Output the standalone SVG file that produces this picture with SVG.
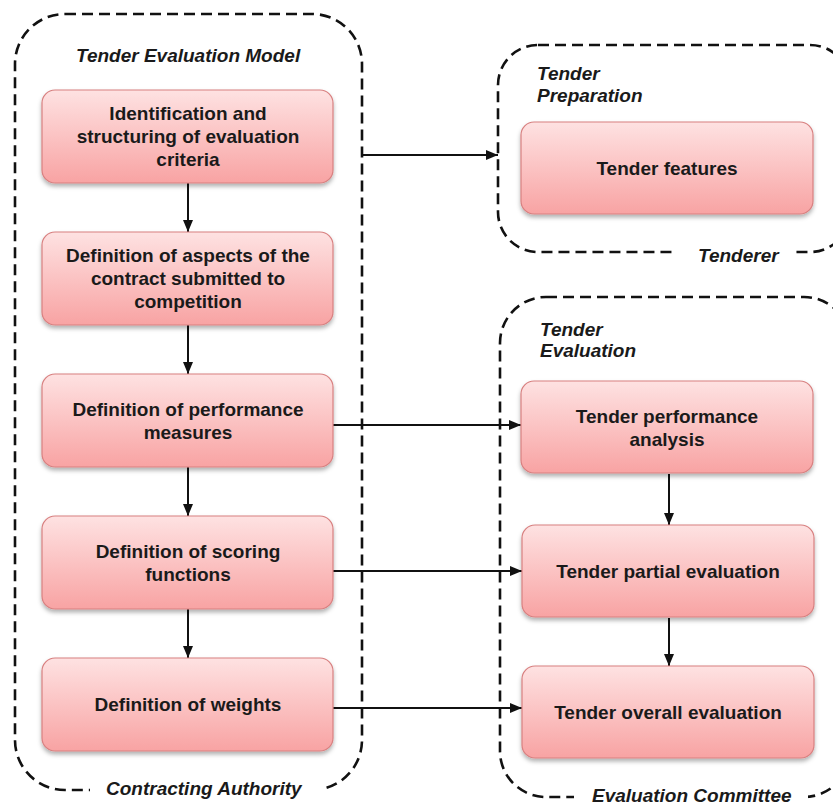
<svg xmlns="http://www.w3.org/2000/svg" width="833" height="808" viewBox="0 0 833 808">
<style>
.cont{fill:none;stroke:#111;stroke-width:2.6;stroke-dasharray:11 6}
.node{fill:url(#g);stroke:#d88080;stroke-width:1.2;filter:url(#sh)}
.nt{font-family:"Liberation Sans",Arial,sans-serif;font-weight:bold;font-size:19px;fill:#1a1a1a;text-anchor:middle}
.lb{font-family:"Liberation Sans",Arial,sans-serif;font-weight:bold;font-style:italic;font-size:19px;fill:#1a1a1a}
.ln{stroke:#111;stroke-width:2;fill:none;marker-end:url(#ah)}
.bg{fill:#fff}
</style>
<defs>
<linearGradient id="g" x1="0" y1="0" x2="0" y2="1">
<stop offset="0" stop-color="#fee2e2"/>
<stop offset="1" stop-color="#f8a3a3"/>
</linearGradient>
<filter id="sh" x="-10%" y="-10%" width="120%" height="130%">
<feDropShadow dx="0" dy="3" stdDeviation="2" flood-color="#000" flood-opacity="0.3"/>
</filter>
<marker id="ah" markerWidth="12" markerHeight="10" refX="12" refY="5" orient="auto" markerUnits="userSpaceOnUse">
<path d="M0,0 L12,5 L0,10 Z" fill="#111"/>
</marker>
</defs>
<rect width="833" height="808" fill="#fff"/>
<g id="containers">
<g id="c-authority">
<rect class="cont" x="15" y="14" width="347" height="776" rx="50"/>
<rect class="bg" x="90" y="778" width="232" height="24"/>
<text class="lb" x="106" y="795">Contracting Authority</text>
<text class="lb" x="76" y="62">Tender Evaluation Model</text>
</g>
<g id="c-tenderer">
<rect class="cont" x="498" y="45" width="352" height="207" rx="40"/>
<rect class="bg" x="672" y="242" width="120" height="24"/>
<text class="lb" x="698" y="262">Tenderer</text>
<text class="lb" x="537" y="80">Tender</text>
<text class="lb" x="537" y="102">Preparation</text>
</g>
<g id="c-committee">
<rect class="cont" x="500" y="297" width="350" height="500" rx="46"/>
<rect class="bg" x="574" y="785" width="234" height="23"/>
<text class="lb" x="592" y="802">Evaluation Committee</text>
<text class="lb" x="540" y="336">Tender</text>
<text class="lb" x="540" y="357">Evaluation</text>
</g>
</g>
<g id="connectors">
<line class="ln" x1="188" y1="183" x2="188" y2="232"/>
<line class="ln" x1="188" y1="325" x2="188" y2="374"/>
<line class="ln" x1="188" y1="467" x2="188" y2="516"/>
<line class="ln" x1="188" y1="609" x2="188" y2="658"/>
<line class="ln" x1="362" y1="155" x2="498" y2="155"/>
<line class="ln" x1="333" y1="425" x2="521" y2="425"/>
<line class="ln" x1="333" y1="571" x2="522" y2="571"/>
<line class="ln" x1="333" y1="708" x2="522" y2="708"/>
<line class="ln" x1="669" y1="474" x2="669" y2="525"/>
<line class="ln" x1="669" y1="618" x2="669" y2="666"/>
</g>
<g id="n1"><rect class="node" x="42" y="90" width="291" height="93" rx="13"/>
<text class="nt" x="188" y="120">Identification and</text>
<text class="nt" x="188" y="143">structuring of evaluation</text>
<text class="nt" x="188" y="166">criteria</text></g>
<g id="n2"><rect class="node" x="42" y="232" width="291" height="93" rx="13"/>
<text class="nt" x="188" y="262">Definition of aspects of the</text>
<text class="nt" x="188" y="285">contract submitted to</text>
<text class="nt" x="188" y="308">competition</text></g>
<g id="n3"><rect class="node" x="42" y="374" width="291" height="93" rx="13"/>
<text class="nt" x="188" y="416">Definition of performance</text>
<text class="nt" x="188" y="439">measures</text></g>
<g id="n4"><rect class="node" x="42" y="516" width="291" height="93" rx="13"/>
<text class="nt" x="188" y="558">Definition of scoring</text>
<text class="nt" x="188" y="581">functions</text></g>
<g id="n5"><rect class="node" x="42" y="658" width="291" height="93" rx="13"/>
<text class="nt" x="188" y="711">Definition of weights</text></g>
<g id="n6"><rect class="node" x="521" y="122" width="292" height="92" rx="13"/>
<text class="nt" x="667" y="175">Tender features</text></g>
<g id="n7"><rect class="node" x="521" y="381" width="292" height="92" rx="13"/>
<text class="nt" x="667" y="423">Tender performance</text>
<text class="nt" x="667" y="446">analysis</text></g>
<g id="n8"><rect class="node" x="522" y="525" width="292" height="92" rx="13"/>
<text class="nt" x="668" y="578">Tender partial evaluation</text></g>
<g id="n9"><rect class="node" x="522" y="666" width="292" height="92" rx="13"/>
<text class="nt" x="668" y="719">Tender overall evaluation</text></g>
</svg>
